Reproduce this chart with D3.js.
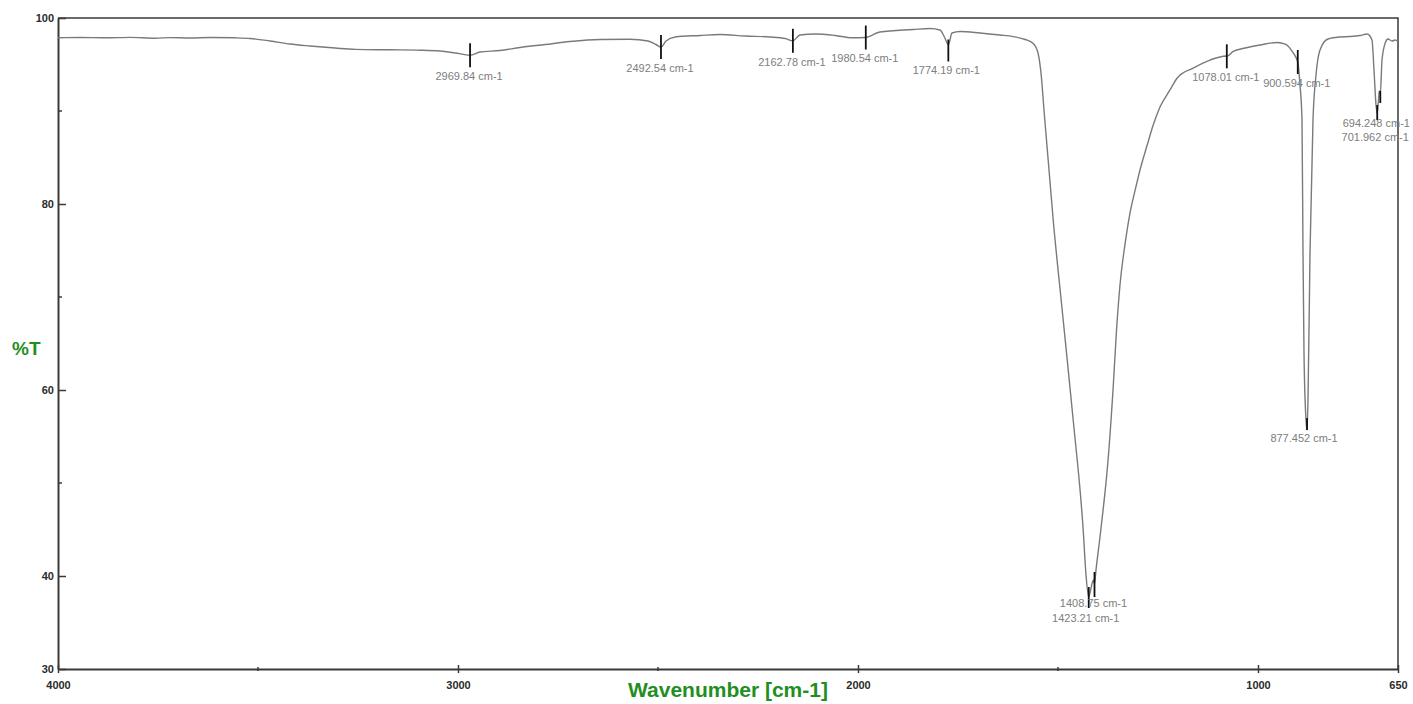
<!DOCTYPE html>
<html lang="en">

<head>
  <meta charset="utf-8">
  <title>IR spectrum</title>
  <script type="text/javascript" src="https://cdn.jsdelivr.net/npm/d3@7"></script>
  <style type="text/css">
    * {
      margin: 0;
      padding: 0;
    }

    body {
      background: #fff;
    }

    .tick-label {
      font-family: "Liberation Sans", Arial, sans-serif;
      font-size: 11px;
      font-weight: bold;
      fill: #2b2b2b;
    }

    .peak-label {
      font-family: "Liberation Sans", Arial, sans-serif;
      font-size: 11px;
      fill: #7d7d7d;
    }

    .axis-title {
      font-family: "Liberation Sans Narrow", "Arial Narrow", "Liberation Sans", sans-serif;
      font-weight: bold;
      fill: #1f8f1f;
    }
  </style>
</head>

<body>
  <div id="chart"></div>
  <script>
    // spectrum: wavenumber (cm-1) and %T
    var wavenumber = [4000, 3945, 3882, 3820, 3757, 3720, 3670, 3620, 3557, 3520,
      3470, 3420, 3370, 3307, 3257, 3170, 3095, 3045, 3007, 2970,
      2945, 2895, 2845, 2782, 2720, 2645, 2570, 2525, 2505, 2492.5,
      2480, 2457, 2395, 2345, 2282, 2220, 2182, 2163, 2145, 2107,
      2057, 2015, 1981, 1945, 1862, 1820, 1795, 1785, 1774, 1765,
      1745, 1695, 1645, 1612, 1582, 1562, 1550, 1542, 1535, 1512,
      1487, 1462, 1437, 1430, 1423.2, 1417.5, 1413.75, 1411, 1408.75, 1405,
      1395, 1386, 1377, 1362, 1354, 1345, 1332, 1320, 1307, 1295,
      1277, 1262, 1245, 1220, 1202, 1162, 1120, 1080, 1078, 1062,
      1032, 995, 952, 932, 912, 900.6, 895, 890, 887.5, 885,
      880, 877.45, 875, 870, 862.5, 855, 845, 825, 795, 770,
      745, 727, 715, 710, 705, 702, 698.75, 696.75, 694.25, 690,
      682, 675, 665, 657, 650];
    var transmittance = [97.88, 97.90, 97.87, 97.92, 97.83, 97.89, 97.85, 97.91, 97.87, 97.80,
      97.53, 97.20, 96.99, 96.77, 96.63, 96.58, 96.54, 96.45, 96.24, 96.00,
      96.34, 96.50, 96.83, 97.15, 97.47, 97.69, 97.71, 97.53, 97.15, 96.88,
      97.53, 97.96, 98.12, 98.23, 98.06, 97.96, 97.80, 97.55, 98.17, 98.28,
      98.12, 97.87, 97.90, 98.49, 98.76, 98.87, 98.71, 98.06, 97.15, 98.39,
      98.55, 98.39, 98.17, 98.00, 97.69, 97.26, 96.24, 93.87, 90.11, 78.28,
      67.53, 56.77, 44.95, 40.11, 37.74, 38.71, 39.35, 39.57, 39.14, 40.65,
      44.19, 47.60, 51.40, 60.32, 66.24, 71.29, 75.81, 79.03, 81.51, 83.66,
      86.34, 88.49, 90.43, 92.26, 93.55, 94.62, 95.48, 95.92, 95.88, 96.40,
      96.77, 97.10, 97.37, 97.20, 96.24, 95.27, 92.80, 89.03, 74.73, 63.98,
      56.77, 55.70, 58.90, 74.73, 89.03, 93.87, 96.56, 97.74, 97.96, 98.01,
      98.12, 98.28, 97.63, 94.41, 90.65, 89.78, 91.18, 92.15, 91.83, 95.48,
      97.31, 97.74, 97.53, 97.63, 97.47];

    // picked peaks
    var peakWavenumber = [2969.84, 2492.54, 2162.78, 1980.54, 1774.19, 1423.21, 1408.75, 1078.01, 900.594, 877.452, 701.962, 694.248];
    var peakT = [96.00, 96.88, 97.55, 97.90, 97.15, 37.74, 39.14, 95.88, 95.27, 55.70, 89.78, 91.83];
    var peakLabels = ["2969.84 cm-1", "2492.54 cm-1", "2162.78 cm-1", "1980.54 cm-1", "1774.19 cm-1",
      "1423.21 cm-1", "1408.75 cm-1", "1078.01 cm-1", "900.594 cm-1", "877.452 cm-1", "701.962 cm-1", "694.248 cm-1"];

    // axis ticks
    var xTickValues = [4000, 3000, 2000, 1000, 650];
    var xMinorValues = [3500, 2500, 1500];
    var yTickValues = [30, 40, 60, 80, 100];
    var yMinorValues = [50, 70, 90];

    var svgWidth = 1413;
    var svgHeight = 704;
    var plot = { left: 58, right: 1398, top: 18, bottom: 669 };

    // tick / label placement per peak (offsets from the curve point)
    var peakLayout = {
      "1774.19 cm-1": { t: -5, b: 17, ly: 26, dx: -2 },
      "877.452 cm-1": { t: -12, b: 0, ly: 8, dx: -3 },
      "701.962 cm-1": { t: -8, b: 7, ly: 24, dx: -2 },
      "694.248 cm-1": { t: -3, b: 9, ly: 29, dx: -4 },
      "1423.21 cm-1": { t: -10, b: 11, ly: 21, dx: -3 },
      "1408.75 cm-1": { t: -12, b: 13, ly: 19, dx: -1 }
    };

    var svg = d3.select("#chart")
      .append("svg")
      .attr("width", svgWidth)
      .attr("height", svgHeight);

    var x = d3.scaleLinear().domain([4000, 650]).range([plot.left, plot.right]);
    var y = d3.scaleLinear().domain([30, 100]).range([plot.bottom, plot.top]);

    // frame (top + right)
    svg.append("path")
      .attr("d", "M" + plot.left + "," + plot.top + "H" + plot.right + "V" + plot.bottom)
      .attr("fill", "none")
      .attr("stroke", "#3a3a3a")
      .attr("stroke-width", 1.5);

    // y axis, ticks point inward
    var yAxisG = svg.append("g")
      .attr("transform", "translate(" + plot.left + ",0)")
      .call(d3.axisLeft(y).tickValues(yTickValues).tickSizeInner(-8).tickSizeOuter(0).tickPadding(4));
    yAxisG.select(".domain").attr("stroke", "#3a3a3a").attr("stroke-width", 2);
    yAxisG.selectAll(".tick line").attr("stroke", "#3a3a3a").attr("stroke-width", 1.5);
    yAxisG.selectAll(".tick text").attr("class", "tick-label").attr("fill", null);
    yAxisG.selectAll(".minor")
      .data(yMinorValues)
      .enter().append("line")
      .attr("x1", 0).attr("x2", 4)
      .attr("y1", function(d) { return y(d) })
      .attr("y2", function(d) { return y(d) })
      .attr("stroke", "#3a3a3a").attr("stroke-width", 1.5);

    // x axis, ticks straddle the line
    var xAxisG = svg.append("g")
      .attr("transform", "translate(0," + plot.bottom + ")")
      .call(d3.axisBottom(x).tickValues(xTickValues).tickSizeOuter(0).tickFormat(d3.format("d")));
    xAxisG.select(".domain").attr("stroke", "#3a3a3a").attr("stroke-width", 2);
    xAxisG.selectAll(".tick line").attr("y1", -4).attr("y2", 4).attr("stroke", "#3a3a3a").attr("stroke-width", 1.5);
    xAxisG.selectAll(".tick text").attr("class", "tick-label").attr("fill", null).attr("y", 12);
    xAxisG.selectAll(".minor")
      .data(xMinorValues)
      .enter().append("line")
      .attr("x1", function(d) { return x(d) })
      .attr("x2", function(d) { return x(d) })
      .attr("y1", -2).attr("y2", 2)
      .attr("stroke", "#3a3a3a").attr("stroke-width", 1.5);

    // axis titles
    svg.append("text")
      .attr("class", "axis-title")
      .attr("x", 12).attr("y", 348)
      .attr("dy", "0.35em")
      .attr("font-size", "19px")
      .text("%T");
    svg.append("text")
      .attr("class", "axis-title")
      .attr("x", 728).attr("y", 690)
      .attr("dy", "0.35em")
      .attr("text-anchor", "middle")
      .attr("font-size", "21px")
      .text("Wavenumber [cm-1]");

    // spectrum
    var points = wavenumber.map(function(w, i) { return [w, transmittance[i]] });
    svg.append("path")
      .datum(points)
      .attr("fill", "none")
      .attr("stroke", "#7a7a7a")
      .attr("stroke-width", 1.4)
      .attr("stroke-linejoin", "round")
      .attr("d", d3.line()
        .curve(d3.curveMonotoneX)
        .x(function(d) { return x(d[0]) })
        .y(function(d) { return y(d[1]) }));

    // peak markers
    var peaks = peakWavenumber.map(function(w, i) {
      var lay = peakLayout[peakLabels[i]] || { t: -12, b: 12, ly: 21, dx: -1 };
      return { w: w, t: peakT[i], label: peakLabels[i], lay: lay };
    });
    var peakG = svg.append("g");
    peakG.selectAll("line")
      .data(peaks)
      .enter().append("line")
      .attr("x1", function(d) { return x(d.w) })
      .attr("x2", function(d) { return x(d.w) })
      .attr("y1", function(d) { return y(d.t) + d.lay.t })
      .attr("y2", function(d) { return y(d.t) + d.lay.b })
      .attr("stroke", "#111")
      .attr("stroke-width", 1.8);
    peakG.selectAll("text")
      .data(peaks)
      .enter().append("text")
      .attr("class", "peak-label")
      .attr("x", function(d) { return x(d.w) + d.lay.dx })
      .attr("y", function(d) { return y(d.t) + d.lay.ly })
      .attr("dy", "0.35em")
      .attr("text-anchor", "middle")
      .text(function(d) { return d.label });
  </script>
</body>

</html>
